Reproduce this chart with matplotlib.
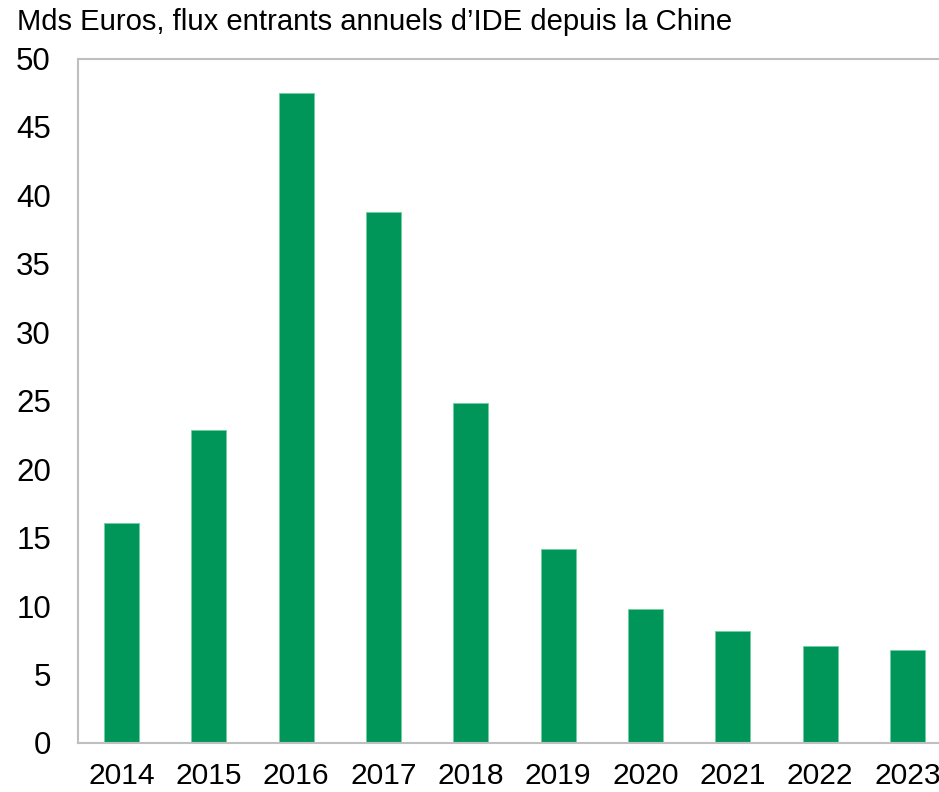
import matplotlib
matplotlib.use("Agg")
import matplotlib.pyplot as plt

years = ["2014", "2015", "2016", "2017", "2018", "2019", "2020", "2021", "2022", "2023"]
values = [16.1, 22.85, 47.5, 38.8, 24.8, 14.2, 9.8, 8.2, 7.1, 6.8]
title = "Mds Euros, flux entrants annuels d\u2019IDE depuis la Chine"
yticks = [0, 5, 10, 15, 20, 25, 30, 35, 40, 45, 50]

plt.rcParams['font.family'] = ['Liberation Sans', 'DejaVu Sans']

W, H = 939, 792
fig = plt.figure(figsize=(W / 100, H / 100), dpi=100)
left, right, top, bottom = 78, 951, 58.5, 743
ax = fig.add_axes([left / W, 1 - bottom / H, (right - left) / W, (bottom - top) / H])

x = range(len(years))
ax.bar(x, values, width=0.4, color="#00965A", edgecolor="#6FCF9F", linewidth=0.6, zorder=2)

ax.set_xlim(-0.5, 9.5)
ax.set_ylim(0, 50)
ax.set_yticks(yticks)
ax.set_yticklabels([str(t) for t in yticks], fontsize=22.5)
ax.set_xticks(list(x))
ax.set_xticklabels(years, fontsize=21.6)
ax.tick_params(axis='y', length=0, pad=19.5)
ax.tick_params(axis='x', length=0, pad=14)

for s in ["right"]:
    ax.spines[s].set_visible(False)
for s in ["left", "top", "bottom"]:
    ax.spines[s].set_color("#BFBFBF")
    ax.spines[s].set_linewidth(1.5)

fig.text(17 / W, 1 - 29.5 / H, title, fontsize=21.1, ha="left", va="baseline", color="black")

fig.savefig("out.png", dpi=100)
